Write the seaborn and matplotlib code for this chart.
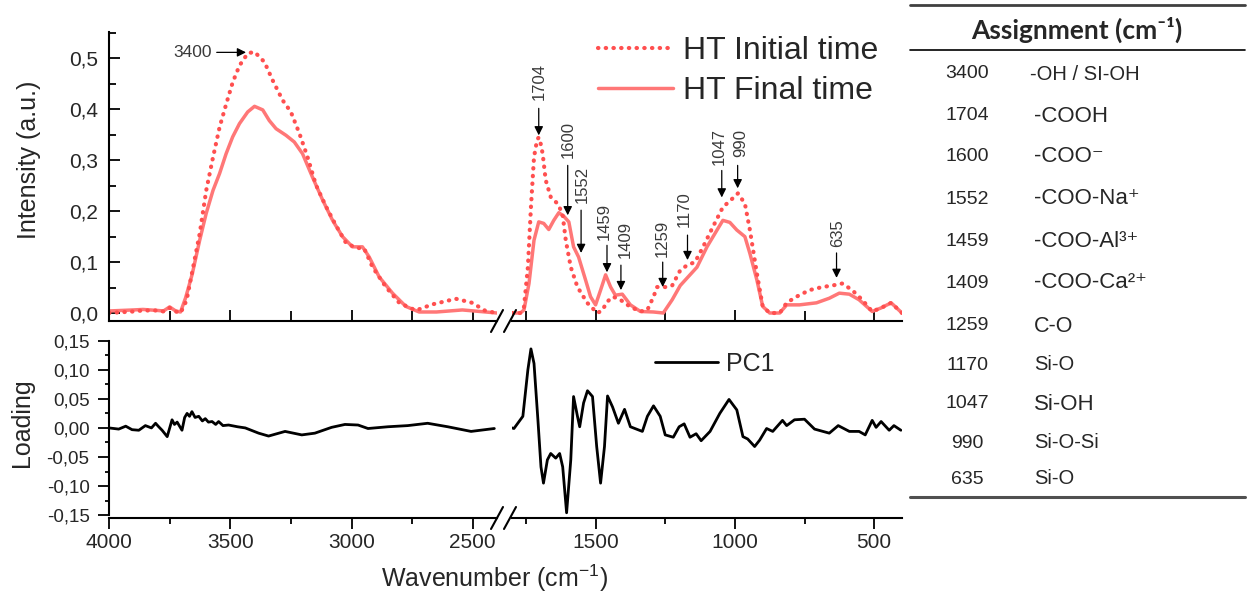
import numpy as np
import pandas as pd
import matplotlib
matplotlib.use('Agg')
import matplotlib.pyplot as plt
import seaborn as sns
from matplotlib.lines import Line2D
from matplotlib.ticker import MultipleLocator, FuncFormatter, FixedLocator

sns.set_theme(style='white')
plt.rcParams['font.family'] = ['Liberation Sans', 'DejaVu Sans']
plt.rcParams['mathtext.default'] = 'regular'

# ---------------- data ----------------
init_hi_wn = [4000, 3900, 3860, 3800, 3775, 3750, 3725, 3705, 3680, 3653, 3626, 3599, 3571, 3544, 3517,
              3490, 3462, 3428, 3400, 3359, 3325, 3284, 3250, 3215, 3181, 3147, 3106, 3064, 3023, 2982,
              2948, 2913, 2858, 2803, 2735, 2666, 2570, 2502, 2447, 2400]
init_hi_val = [0.0, 0.003, 0.005, 0.005, 0.003, 0.01, 0.003, 0.0, 0.025, 0.09, 0.156, 0.241, 0.306, 0.365,
               0.41, 0.453, 0.486, 0.510, 0.513, 0.493, 0.457, 0.418, 0.395, 0.353, 0.306, 0.252, 0.21,
               0.172, 0.138, 0.128, 0.127, 0.09, 0.051, 0.02, 0.005, 0.017, 0.028, 0.02, 0.004, 0.0]

final_hi_wn = [4000, 3900, 3860, 3800, 3775, 3750, 3725, 3705, 3684, 3657, 3626, 3599, 3571, 3544, 3517,
               3490, 3462, 3428, 3400, 3366, 3339, 3311, 3270, 3236, 3202, 3161, 3119, 3078, 3037, 2996,
               2955, 2927, 2886, 2831, 2776, 2721, 2650, 2543, 2470, 2400]
final_hi_val = [0.004, 0.006, 0.007, 0.005, 0.004, 0.012, 0.004, 0.002, 0.03, 0.076, 0.143, 0.196, 0.241,
                0.274, 0.313, 0.346, 0.372, 0.395, 0.406, 0.399, 0.378, 0.362, 0.349, 0.336, 0.313, 0.267,
                0.222, 0.182, 0.15, 0.13, 0.13, 0.11, 0.071, 0.039, 0.013, 0.002, 0.002, 0.006, 0.003, 0.0]

init_lo_wn = [1800, 1770, 1757, 1743, 1732, 1721, 1710, 1704, 1698, 1690, 1679, 1661, 1637, 1619, 1607,
              1589, 1565, 1530, 1494, 1476, 1459, 1437, 1411, 1375, 1339, 1314, 1292, 1279, 1250, 1225,
              1196, 1171, 1143, 1114, 1079, 1043, 1018, 989, 964, 946, 921, 900, 875, 839, 814, 779, 732,
              686, 650, 614, 579, 543, 507, 475, 439, 400]
init_lo_val = [0.0, 0.0, 0.012, 0.09, 0.208, 0.306, 0.34, 0.345, 0.335, 0.313, 0.261, 0.228, 0.215, 0.196,
               0.143, 0.09, 0.051, 0.02, 0.0, 0.005, 0.022, 0.032, 0.026, 0.012, 0.003, 0.006, 0.032, 0.051,
               0.051, 0.054, 0.084, 0.094, 0.1, 0.13, 0.169, 0.208, 0.22, 0.235, 0.215, 0.163, 0.078, 0.013,
               0.0, 0.0, 0.02, 0.032, 0.045, 0.051, 0.054, 0.058, 0.045, 0.026, 0.003, 0.01, 0.02, 0.0]

final_lo_wn = [1800, 1770, 1757, 1739, 1721, 1704, 1686, 1668, 1650, 1632, 1614, 1596, 1579, 1561, 1536,
               1518, 1500, 1482, 1464, 1446, 1429, 1404, 1375, 1339, 1292, 1257, 1225, 1196, 1161, 1136,
               1100, 1064, 1043, 1018, 993, 964, 946, 921, 900, 875, 839, 814, 768, 707, 661, 625, 589,
               554, 507, 475, 439, 400]
final_lo_val = [0.0, 0.0, 0.006, 0.058, 0.143, 0.179, 0.176, 0.164, 0.182, 0.197, 0.19, 0.179, 0.13, 0.11,
                0.065, 0.032, 0.016, 0.045, 0.075, 0.051, 0.035, 0.037, 0.016, 0.003, 0.002, 0.0, 0.026,
                0.054, 0.075, 0.09, 0.13, 0.163, 0.182, 0.178, 0.163, 0.15, 0.117, 0.065, 0.013, 0.0, 0.0,
                0.016, 0.016, 0.02, 0.029, 0.039, 0.037, 0.026, 0.003, 0.01, 0.02, 0.0]

pc1_hi_wn = [4000, 3960, 3931, 3905, 3877, 3850, 3825, 3808, 3795, 3781, 3760, 3740, 3730, 3719, 3699, 3688,
             3678, 3668, 3658, 3645, 3630, 3615, 3603, 3590, 3575, 3560, 3548, 3530, 3507, 3470, 3438, 3383,
             3342, 3274, 3205, 3151, 3082, 3027, 2973, 2932, 2850, 2768, 2686, 2603, 2507, 2411]
pc1_hi_val = [0.0, -0.002, 0.003, -0.003, -0.004, 0.004, 0.0, 0.008, 0.002, -0.004, -0.015, 0.014, 0.006,
              0.01, -0.004, 0.018, 0.025, 0.02, 0.028, 0.018, 0.02, 0.012, 0.016, 0.01, 0.011, 0.006, 0.011,
              0.004, 0.005, 0.002, 0.0, -0.009, -0.014, -0.006, -0.012, -0.009, 0.001, 0.006, 0.005, -0.001,
              0.002, 0.004, 0.008, 0.002, -0.006, -0.001]

pc1_lo_wn = [1800, 1793, 1761, 1743, 1732, 1721, 1707, 1696, 1687, 1673, 1661, 1643, 1629, 1618, 1604, 1589,
             1579, 1565, 1557, 1543, 1529, 1511, 1496, 1482, 1468, 1457, 1439, 1418, 1396, 1375, 1332, 1314,
             1292, 1268, 1250, 1221, 1200, 1182, 1161, 1139, 1121, 1089, 1054, 1021, 993, 971, 954, 929, 911,
             886, 864, 829, 814, 786, 750, 714, 661, 629, 589, 554, 532, 507, 493, 475, 446, 429, 404]
pc1_lo_val = [0.0, -0.001, 0.02, 0.1, 0.136, 0.111, 0.014, -0.067, -0.095, -0.055, -0.044, -0.052, -0.044,
              -0.067, -0.146, -0.055, 0.054, 0.02, 0.002, 0.043, 0.064, 0.054, -0.032, -0.095, -0.032, 0.055,
              0.036, 0.008, 0.032, 0.002, -0.006, 0.02, 0.038, 0.02, -0.012, -0.016, 0.002, 0.007, -0.016,
              -0.01, -0.022, -0.006, 0.025, 0.049, 0.031, -0.015, -0.019, -0.032, -0.021, -0.001, -0.006,
              0.013, 0.004, 0.014, 0.015, -0.002, -0.009, 0.004, -0.006, -0.006, -0.012, 0.013, 0.001, 0.011,
              -0.004, 0.004, -0.004]

peak_labels = ['1704', '1600', '1552', '1459', '1409', '1259', '1170', '1047', '990', '635']
peak_wn = [1704, 1600, 1552, 1459, 1409, 1259, 1170, 1047, 990, 635]
peak_tip = [0.349, 0.192, 0.118, 0.080, 0.045, 0.051, 0.104, 0.227, 0.245, 0.069]
peak_tail = [0.402, 0.290, 0.202, 0.133, 0.094, 0.100, 0.153, 0.280, 0.290, 0.118]
peak_text = [0.418, 0.304, 0.216, 0.143, 0.108, 0.110, 0.169, 0.290, 0.306, 0.129]
text_dx = [0.5, 1.0, 1.5, -2.5, 4.0, -0.5, -3.5, -2.5, 3.0, 1.5]   # pixel nudges of label vs arrow

tab_wn = ['3400', '1704', '1600', '1552', '1459', '1409', '1259', '1170', '1047', '990', '635']
tab_assign = ['-OH / SI-OH', '-COOH', '-COO\u207b', '-COO-Na\u207a', '-COO-Al\u00b3\u207a',
              '-COO-Ca\u00b2\u207a', 'C-O', 'Si-O', 'Si-OH', 'Si-O-Si', 'Si-O']
tab_size = [14.5, 16, 16, 16, 16, 16, 15.5, 14.5, 16, 14.5, 14.5]

# ---------------- figure ----------------
W, H = 1251, 598
fig = plt.figure(figsize=(W / 100, H / 100), dpi=100)
fig.patch.set_facecolor('white')


def fx(px):
    return px / W


def fy(py):
    return 1 - py / H


xL0, xL1, xR0, xR1 = 109, 497, 512, 902
yT0, yMid, yB1 = 32, 321, 518

axTL = fig.add_axes([fx(xL0), fy(yMid), fx(xL1 - xL0), (yMid - yT0) / H])
axTR = fig.add_axes([fx(xR0), fy(yMid), fx(xR1 - xR0), (yMid - yT0) / H])
axBL = fig.add_axes([fx(xL0), fy(yB1), fx(xL1 - xL0), (yB1 - yMid) / H])
axBR = fig.add_axes([fx(xR0), fy(yB1), fx(xR1 - xR0), (yB1 - yMid) / H])

c_init = '#ff4f4f'
c_final = '#ff7777'
dot_style = (0, (0.1, 1.75))

for ax, wi, vi, wf, vf in [(axTL, init_hi_wn, init_hi_val, final_hi_wn, final_hi_val),
                           (axTR, init_lo_wn, init_lo_val, final_lo_wn, final_lo_val)]:
    sns.lineplot(x=wf, y=vf, ax=ax, color=c_final, lw=2.5, sort=False, estimator=None,
                 label='HT Final time' if ax is axTR else None)
    sns.lineplot(x=wi, y=vi, ax=ax, color=c_init, lw=3.0, linestyle=dot_style, sort=False,
                 estimator=None, dash_capstyle='round',
                 label='HT Initial time' if ax is axTR else None)

sns.lineplot(x=pc1_hi_wn, y=pc1_hi_val, ax=axBL, color='black', lw=2.0, sort=False, estimator=None)
sns.lineplot(x=pc1_lo_wn, y=pc1_lo_val, ax=axBR, color='black', lw=2.0, sort=False, estimator=None,
             label='PC1')

for ax in (axTL, axBL):
    ax.set_xlim(4000, 2400)
for ax in (axTR, axBR):
    ax.set_xlim(1800, 400)
for ax in (axTL, axTR):
    ax.set_ylim(-0.0157, 0.552)
for ax in (axBL, axBR):
    ax.set_ylim(-0.155, 0.184)

for ax in (axTL, axTR, axBL, axBR):
    ax.set_facecolor('none')
    ax.grid(False)
    for s in ['top', 'right']:
        ax.spines[s].set_visible(False)
    ax.spines['bottom'].set_color('black')
    ax.spines['left'].set_color('black')
    ax.spines['bottom'].set_linewidth(1.5)
    ax.spines['left'].set_linewidth(1.5)
    ax.set_xlabel('')
    ax.set_ylabel('')
for ax in (axTR, axBR):
    ax.spines['left'].set_visible(False)
    ax.tick_params(axis='y', left=False, labelleft=False)

# x ticks
axTL.xaxis.set_major_locator(FixedLocator([4000, 3500, 3000, 2500]))
axTL.xaxis.set_minor_locator(FixedLocator([3750, 3250, 2750]))
axBL.xaxis.set_major_locator(FixedLocator([4000, 3500, 3000, 2500]))
axBL.xaxis.set_minor_locator(FixedLocator([3750, 3250, 2750]))
for ax in (axTR, axBR):
    ax.xaxis.set_major_locator(FixedLocator([1500, 1000, 500]))
    ax.xaxis.set_minor_locator(FixedLocator([1750, 1250, 750]))

for ax in (axTL, axTR):
    ax.tick_params(axis='x', which='both', direction='in', bottom=True, labelbottom=False,
                   width=1.3, color='black')
    ax.tick_params(axis='x', which='major', length=8)
    ax.tick_params(axis='x', which='minor', length=7)
for ax in (axBL, axBR):
    ax.tick_params(axis='x', which='both', direction='out', bottom=True, labelbottom=True,
                   width=1.3, color='black', labelsize=15, pad=3)
    ax.tick_params(axis='x', which='major', length=8)
    ax.tick_params(axis='x', which='minor', length=4)

comma = FuncFormatter(lambda v, p: ('%.1f' % v).replace('.', ','))
comma2 = FuncFormatter(lambda v, p: ('%.2f' % (0 if abs(v) < 1e-9 else v)).replace('.', ','))

axTL.yaxis.set_major_locator(MultipleLocator(0.1))
axTL.yaxis.set_minor_locator(FixedLocator([0.05, 0.15, 0.25, 0.35, 0.45, 0.55]))
axTL.yaxis.set_major_formatter(comma)
axTL.tick_params(axis='y', which='both', direction='in', left=True, width=1.3, color='black',
                 labelsize=15, pad=8)
axTL.tick_params(axis='y', which='major', length=8)
axTL.tick_params(axis='y', which='minor', length=5)

axBL.yaxis.set_major_locator(FixedLocator([-0.15, -0.10, -0.05, 0.0, 0.05, 0.10, 0.15]))
axBL.yaxis.set_minor_locator(FixedLocator([-0.125, -0.075, -0.025, 0.025, 0.075, 0.125]))
axBL.yaxis.set_major_formatter(comma2)
axBL.tick_params(axis='y', which='both', direction='out', left=True, width=1.3, color='black',
                 labelsize=13.5, pad=6)
axBL.tick_params(axis='y', which='major', length=8)
axBL.tick_params(axis='y', which='minor', length=3)
axBL.spines['left'].set_bounds(-0.15, 0.15)

# legends
h, l = axTR.get_legend_handles_labels()
order = [l.index('HT Initial time'), l.index('HT Final time')]
axTR.legend([h[i] for i in order], [l[i] for i in order], loc='upper left',
            bbox_to_anchor=(fx(598), fy(36)), bbox_transform=fig.transFigure, frameon=False,
            fontsize=23, handlelength=2.35, handletextpad=0.32, labelspacing=0.32,
            borderpad=0, borderaxespad=0)
axBR.legend(loc='upper left', bbox_to_anchor=(fx(655), fy(352)), bbox_transform=fig.transFigure,
            frameon=False, fontsize=18, handlelength=2.5, handletextpad=0.32, borderpad=0,
            borderaxespad=0)

# annotations
ann_col = '#3a3a3a'
arrow_kw = dict(arrowstyle='-|>', color='black', lw=0.9, mutation_scale=13, shrinkA=0, shrinkB=0)
axTL.annotate('3400', xy=(3435, 0.512), xytext=(3575, 0.512), ha='right', va='center',
              fontsize=12.5, color=ann_col,
              arrowprops=dict(arrow_kw, shrinkA=1))
for lab, w, tip, tail, ty, dx in zip(peak_labels, peak_wn, peak_tip, peak_tail, peak_text, text_dx):
    axTR.annotate('', xy=(w, tip), xytext=(w, tail), arrowprops=arrow_kw)
    axTR.annotate(lab, xy=(w, ty), xytext=(dx * 0.72, 0), textcoords='offset points',
                  rotation=90, ha='center', va='bottom', fontsize=12, color=ann_col)

# axis labels
fig.text(fx(29), fy(160), 'Intensity (a.u.)', rotation=90, ha='center', va='center', fontsize=18)
fig.text(fx(22), fy(423), 'Loading', rotation=90, ha='center', va='center', fontsize=18)
fig.text(fx(495), fy(578), 'Wavenumber (cm$^{-1}$)', ha='center', va='center', fontsize=18)

# axis break marks
for yb in (yMid, yB1):
    for xc in (497, 510):
        fig.add_artist(Line2D([fx(xc - 6), fx(xc + 6)], [fy(yb + 11), fy(yb - 11)],
                              color='black', lw=1.5, transform=fig.transFigure))

# table
fig.add_artist(Line2D([fx(910), fx(1245)], [fy(5), fy(5)], color='#404040', lw=2.0,
                      transform=fig.transFigure))
fig.add_artist(Line2D([fx(910), fx(1245)], [fy(50), fy(50)], color='black', lw=1.2,
                      transform=fig.transFigure))
fig.add_artist(Line2D([fx(910), fx(1245)], [fy(497), fy(497)], color='#505050', lw=2.2,
                      transform=fig.transFigure))
fig.text(fx(1077), fy(30), 'Assignment (cm\u207b\u00b9)', ha='center', va='center', fontsize=19,
         fontweight='bold', family=['Lato', 'DejaVu Sans'])
row_y = [74, 116, 157, 199, 241, 283, 326, 365, 404, 443, 479]
for i, (n, a, s) in enumerate(zip(tab_wn, tab_assign, tab_size)):
    fig.text(fx(967), fy(row_y[i]), n, ha='center', va='center', fontsize=14)
    fig.text(fx(1030 if i == 0 else 1034), fy(row_y[i]), a, ha='left', va='center', fontsize=s)

fig.savefig('out.png', dpi=100)
